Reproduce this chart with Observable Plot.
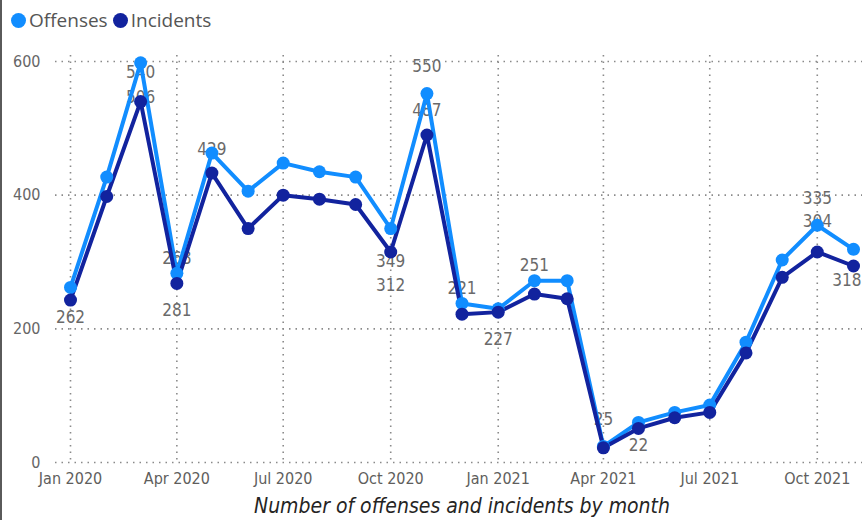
<!DOCTYPE html>
<html>
<head>
<meta charset="utf-8">
<script src="https://cdn.jsdelivr.net/npm/d3@7"></script>
<script src="https://cdn.jsdelivr.net/npm/@observablehq/plot@0.6"></script>
<style>
  html, body { margin: 0; padding: 0; background: #fff; }
  body { width: 862px; height: 520px; position: relative; overflow: hidden; }
  #frame { position: absolute; left: 0; top: 0; width: 2px; height: 520px; background: #5a5a5a; }
  #legend { position: absolute; left: 11px; top: 6px; height: 28px; display: flex; align-items: center;
            font-family: "Open Sans", sans-serif; font-size: 19px; color: #555; }
  #legend .item { display: flex; align-items: center; margin-right: 5px; }
  #legend .sw { width: 15px; height: 15px; border-radius: 50%; margin-right: 3px; }
  #chart { position: absolute; left: 0; top: 40px; }
  #caption { position: absolute; left: 0; width: 862px; top: 494px; text-align: center;
             font-family: "DejaVu Sans Condensed", "DejaVu Sans", sans-serif; font-style: italic;
             font-size: 21px; color: #252423; padding-left: 62px; box-sizing: border-box; }
</style>
</head>
<body>
<div id="frame"></div>
<div id="legend"></div>
<div id="chart"></div>
<div id="caption">Number of offenses and incidents by month</div>
<script>
// ---- data ----
const months = ["2020-01","2020-02","2020-03","2020-04","2020-05","2020-06","2020-07","2020-08","2020-09","2020-10","2020-11","2020-12",
                "2021-01","2021-02","2021-03","2021-04","2021-05","2021-06","2021-07","2021-08","2021-09","2021-10","2021-11"];
const offenses  = [262, 427, 598, 283, 463, 406, 448, 435, 427, 350, 552, 238, 230, 272, 272, 24, 60, 75, 86, 180, 303, 355, 319];
const incidents = [243, 398, 540, 268, 433, 350, 400, 394, 386, 315, 490, 222, 225, 252, 245, 22, 51, 67, 75, 164, 277, 315, 294];
const seriesNames = ["Offenses", "Incidents"];
const seriesColors = ["#118DFF", "#12239E"];
const xTickMonths = ["2020-01","2020-04","2020-07","2020-10","2021-01","2021-04","2021-07","2021-10"];
const yTicks = [0, 200, 400, 600];
// data labels as shown in the original: month, text, series it is attached to, placement
const labelMonths = ["2020-01","2020-03","2020-03","2020-04","2020-04","2020-05","2020-10","2020-10","2020-11","2020-11","2020-12","2021-01","2021-02","2021-04","2021-05","2021-10","2021-10","2021-11"];
const labelTexts  = ["262","540","506","268","281","429","349","312","550","487","221","227","251","25","22","335","304","318"];
const labelSeries = ["Incidents","Offenses","Incidents","Offenses","Incidents","Offenses","Incidents","Incidents","Offenses","Offenses","Offenses","Incidents","Offenses","Offenses","Incidents","Offenses","Offenses","Incidents"];
const labelPlaces = ["below","under","on","above","below2","on","under","below3","above2","below","above","below2","above","above2","below","above2","on","belowEdge"];

// ---- build tables ----
const parse = d3.utcParse("%Y-%m");
const rows = [];
months.forEach((m, i) => {
  rows.push({date: parse(m), value: offenses[i], series: "Offenses"});
});
months.forEach((m, i) => {
  rows.push({date: parse(m), value: incidents[i], series: "Incidents"});
});
const valueOf = {Offenses: offenses, Incidents: incidents};
const labels = labelMonths.map((m, i) => ({
  date: parse(m),
  value: valueOf[labelSeries[i]][months.indexOf(m)],
  text: labelTexts[i],
  place: labelPlaces[i]
}));
const placeOpts = {
  above: {dy: -15}, above2: {dy: -27}, on: {dy: -4}, under: {dy: 10},
  below: {dy: 17}, below2: {dy: 27}, below3: {dy: 34},
  belowEdge: {dy: 15, dx: 8, textAnchor: "end"}
};

// legend
const legend = document.getElementById("legend");
seriesNames.forEach((s, i) => {
  const it = document.createElement("div");
  it.className = "item";
  it.innerHTML = `<span class="sw" style="background:${seriesColors[i]}"></span><span>${s}</span>`;
  legend.appendChild(it);
});

const gridStyle = {stroke: "#8a8a8a", strokeOpacity: 1, strokeWidth: 1.6, strokeDasharray: "1.5,5"};
const tickFont = "DejaVu Sans Condensed, DejaVu Sans, sans-serif";

const chart = Plot.plot({
  width: 862,
  height: 450,
  marginLeft: 55,
  marginRight: 0,
  marginTop: 15,
  marginBottom: 28,
  style: {fontFamily: tickFont, fontSize: "16px", background: "transparent"},
  x: {type: "utc", domain: [parse(months[0]), parse(months[months.length - 1])], range: [70, 853]},
  y: {domain: [0, 600], range: [422, 21]},
  color: {domain: seriesNames, range: seriesColors},
  marks: [
    Plot.gridX(xTickMonths.map(parse), gridStyle),
    Plot.gridY(yTicks, gridStyle),
    Plot.axisX(xTickMonths.map(parse), {tickSize: 0, tickPadding: 10, tickFormat: d3.utcFormat("%b %Y"), fontSize: 16, fill: "#605E5C", label: null}),
    Plot.axisY(yTicks, {tickSize: 0, tickPadding: 15, fontSize: 16, fill: "#666", label: null}),
    ...Object.entries(placeOpts).map(([k, o]) =>
      Plot.text(labels.filter(l => l.place === k), {x: "date", y: "value", text: "text", ...o, fontSize: 17, fill: "#6a6a6a", fontFamily: tickFont})
    ),
    Plot.line(rows, {x: "date", y: "value", z: "series", stroke: "series", strokeWidth: 4, strokeLinejoin: "round"}),
    Plot.dot(rows, {x: "date", y: "value", fill: "series", r: 6.5})
  ]
});
document.getElementById("chart").appendChild(chart);
</script>
</body>
</html>
